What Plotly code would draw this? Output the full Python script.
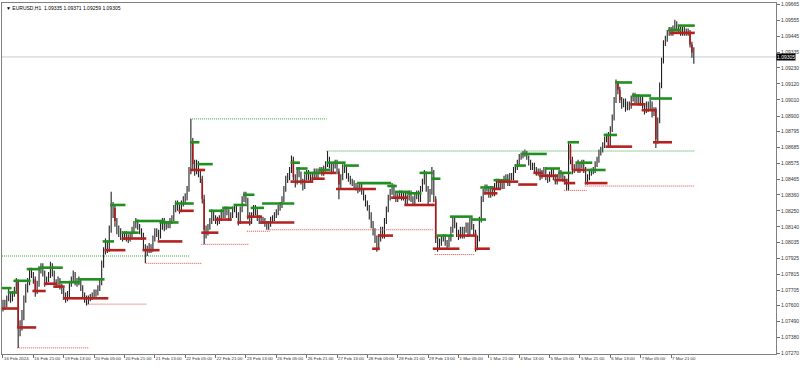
import plotly.graph_objects as go

# ---------------- data (EURUSD H1, bar index 0 = 16 Feb 2024 05:00) ----------------
first_open = 1.0762
closes = [
    1.0759, 1.0761, 1.0765, 1.0767, 1.0765, 1.0768, 1.0770, 1.0777, 1.0745, 1.0746,
    1.0754, 1.0765, 1.0772, 1.0776, 1.0784, 1.0781, 1.0778, 1.0770, 1.0775, 1.0784,
    1.0787, 1.0782, 1.0776, 1.0778, 1.0781, 1.0787, 1.0782, 1.0776, 1.0775, 1.0777,
    1.0773, 1.0770, 1.0767, 1.0765, 1.0767, 1.0775, 1.0778, 1.0781, 1.0776, 1.0776,
    1.0778, 1.0772, 1.0767, 1.0765, 1.0763, 1.0765, 1.0766, 1.0767, 1.0768, 1.0769,
    1.0772, 1.0776, 1.0789, 1.0798, 1.0802, 1.0799, 1.0812, 1.0828, 1.0827, 1.0818,
    1.0812, 1.0810, 1.0808, 1.0807, 1.0809, 1.0807, 1.0806, 1.0808, 1.0812, 1.0816,
    1.0817, 1.0814, 1.0811, 1.0808, 1.0800, 1.0797, 1.0799, 1.0800, 1.0799, 1.0806,
    1.0811, 1.0810, 1.0808, 1.0815, 1.0818, 1.0814, 1.0816, 1.0815, 1.0818, 1.0820,
    1.0827, 1.0830, 1.0827, 1.0826, 1.0830, 1.0833, 1.0834, 1.0840, 1.0853, 1.0872,
    1.0857, 1.0852, 1.0857, 1.0850, 1.0847, 1.0833, 1.0812, 1.0811, 1.0814, 1.0818,
    1.0823, 1.0820, 1.0819, 1.0818, 1.0820, 1.0824, 1.0822, 1.0826, 1.0824, 1.0820,
    1.0822, 1.0826, 1.0827, 1.0822, 1.0818, 1.0826, 1.0833, 1.0836, 1.0833, 1.0822,
    1.0818, 1.0822, 1.0827, 1.0824, 1.0820, 1.0818, 1.0819, 1.0818, 1.0816, 1.0814,
    1.0816, 1.0819, 1.0820, 1.0822, 1.0824, 1.0827, 1.0829, 1.0833, 1.0840, 1.0847,
    1.0848, 1.0853, 1.0860, 1.0848, 1.0845, 1.0853, 1.0850, 1.0845, 1.0842, 1.0848,
    1.0851, 1.0848, 1.0847, 1.0849, 1.0852, 1.0849, 1.0852, 1.0853, 1.0851, 1.0854,
    1.0857, 1.0860, 1.0856, 1.0853, 1.0856, 1.0858, 1.0852, 1.0843, 1.0848, 1.0855,
    1.0853, 1.0849, 1.0847, 1.0845, 1.0844, 1.0842, 1.0841, 1.0840, 1.0842, 1.0838,
    1.0834, 1.0830, 1.0827, 1.0822, 1.0816, 1.0811, 1.0806, 1.0800, 1.0807, 1.0812,
    1.0808, 1.0818, 1.0826, 1.0834, 1.0838, 1.0841, 1.0836, 1.0833, 1.0835, 1.0837,
    1.0834, 1.0836, 1.0831, 1.0834, 1.0837, 1.0833, 1.0831, 1.0835, 1.0837, 1.0833,
    1.0840, 1.0845, 1.0851, 1.0840, 1.0833, 1.0838, 1.0852, 1.0833, 1.0806, 1.0802,
    1.0803, 1.0806, 1.0807, 1.0803, 1.0802, 1.0806, 1.0812, 1.0819, 1.0815, 1.0810,
    1.0808, 1.0812, 1.0808, 1.0812, 1.0815, 1.0810, 1.0818, 1.0814, 1.0810, 1.0800,
    1.0806, 1.0819, 1.0833, 1.0838, 1.0841, 1.0840, 1.0836, 1.0840, 1.0837, 1.0842,
    1.0845, 1.0842, 1.0844, 1.0842, 1.0847, 1.0848, 1.0844, 1.0849, 1.0848, 1.0853,
    1.0855, 1.0858, 1.0862, 1.0863, 1.0864, 1.0865, 1.0862, 1.0858, 1.0855, 1.0856,
    1.0853, 1.0851, 1.0852, 1.0849, 1.0851, 1.0853, 1.0848, 1.0847, 1.0850, 1.0852,
    1.0848, 1.0845, 1.0848, 1.0851, 1.0849, 1.0847, 1.0845, 1.0841, 1.0870, 1.0860,
    1.0853, 1.0855, 1.0858, 1.0853, 1.0856, 1.0858, 1.0853, 1.0845, 1.0848, 1.0851,
    1.0852, 1.0853, 1.0857, 1.0860, 1.0865, 1.0867, 1.0870, 1.0874, 1.0877, 1.0870,
    1.0881, 1.0889, 1.0901, 1.0913, 1.0908, 1.0901, 1.0898, 1.0900, 1.0896, 1.0898,
    1.0897, 1.0902, 1.0904, 1.0901, 1.0903, 1.0899, 1.0902, 1.0897, 1.0894, 1.0898,
    1.0896, 1.0899, 1.0893, 1.0894, 1.0874, 1.0887, 1.0911, 1.0928, 1.0940, 1.0943,
    1.0947, 1.0949, 1.0947, 1.0950, 1.0954, 1.0950, 1.0949, 1.0947, 1.0949, 1.0947,
    1.0948, 1.0947, 1.0939, 1.09335, 1.09305,
]
highs = [
    1.0764, 1.0764, 1.0767, 1.0772, 1.0769, 1.0770, 1.0773, 1.0779, 1.0778, 1.0750,
    1.0757, 1.0767, 1.0775, 1.0779, 1.0786, 1.0786, 1.0783, 1.0780, 1.0777, 1.0786,
    1.0789, 1.0789, 1.0784, 1.0780, 1.0783, 1.0790, 1.0789, 1.0784, 1.0778, 1.0780,
    1.0779, 1.0775, 1.0772, 1.0769, 1.0770, 1.0777, 1.0780, 1.0784, 1.0783, 1.0779,
    1.0780, 1.0779, 1.0774, 1.0769, 1.0767, 1.0767, 1.0768, 1.0769, 1.0771, 1.0771,
    1.0774, 1.0778, 1.0791, 1.0800, 1.0806, 1.0804, 1.0815, 1.0838, 1.0831, 1.0829,
    1.0820, 1.0815, 1.0813, 1.0811, 1.0811, 1.0811, 1.0809, 1.0810, 1.0814, 1.0818,
    1.0820, 1.0819, 1.0816, 1.0813, 1.0810, 1.0802, 1.0801, 1.0803, 1.0802, 1.0808,
    1.0813, 1.0813, 1.0812, 1.0817, 1.0820, 1.0820, 1.0818, 1.0818, 1.0820, 1.0822,
    1.0829, 1.0832, 1.0832, 1.0829, 1.0832, 1.0835, 1.0837, 1.0842, 1.0855, 1.0888,
    1.0875, 1.0860, 1.0860, 1.0859, 1.0853, 1.0849, 1.0836, 1.0815, 1.0816, 1.0820,
    1.0826, 1.0825, 1.0822, 1.0821, 1.0822, 1.0826, 1.0826, 1.0828, 1.0828, 1.0826,
    1.0824, 1.0828, 1.0829, 1.0829, 1.0824, 1.0828, 1.0835, 1.0838, 1.0838, 1.0834,
    1.0824, 1.0824, 1.0829, 1.0829, 1.0826, 1.0822, 1.0821, 1.0821, 1.0820, 1.0818,
    1.0818, 1.0821, 1.0822, 1.0824, 1.0826, 1.0829, 1.0831, 1.0835, 1.0842, 1.0849,
    1.0851, 1.0855, 1.0863, 1.0862, 1.0850, 1.0855, 1.0855, 1.0852, 1.0847, 1.0850,
    1.0853, 1.0853, 1.0850, 1.0851, 1.0854, 1.0854, 1.0854, 1.0855, 1.0855, 1.0856,
    1.0859, 1.0866, 1.0862, 1.0858, 1.0858, 1.0860, 1.0860, 1.0854, 1.0850, 1.0857,
    1.0857, 1.0855, 1.0851, 1.0849, 1.0847, 1.0846, 1.0844, 1.0843, 1.0844, 1.0844,
    1.0840, 1.0836, 1.0832, 1.0829, 1.0824, 1.0818, 1.0813, 1.0808, 1.0809, 1.0814,
    1.0814, 1.0820, 1.0828, 1.0836, 1.0840, 1.0844, 1.0843, 1.0838, 1.0837, 1.0839,
    1.0839, 1.0838, 1.0838, 1.0836, 1.0839, 1.0839, 1.0835, 1.0837, 1.0839, 1.0839,
    1.0842, 1.0847, 1.0853, 1.0852, 1.0842, 1.0840, 1.0855, 1.0853, 1.0835, 1.0808,
    1.0806, 1.0808, 1.0809, 1.0809, 1.0805, 1.0808, 1.0814, 1.0821, 1.0821, 1.0817,
    1.0812, 1.0814, 1.0814, 1.0814, 1.0817, 1.0817, 1.0820, 1.0820, 1.0816, 1.0812,
    1.0808, 1.0821, 1.0835, 1.0840, 1.0843, 1.0843, 1.0842, 1.0842, 1.0842, 1.0844,
    1.0847, 1.0847, 1.0846, 1.0846, 1.0849, 1.0850, 1.0850, 1.0851, 1.0851, 1.0855,
    1.0857, 1.0860, 1.0864, 1.0865, 1.0866, 1.0867, 1.0866, 1.0863, 1.0860, 1.0858,
    1.0858, 1.0855, 1.0854, 1.0854, 1.0853, 1.0855, 1.0855, 1.0850, 1.0852, 1.0854,
    1.0854, 1.0850, 1.0850, 1.0853, 1.0853, 1.0851, 1.0849, 1.0847, 1.0872, 1.0871,
    1.0862, 1.0857, 1.0859, 1.0860, 1.0858, 1.0860, 1.0860, 1.0855, 1.0850, 1.0853,
    1.0854, 1.0855, 1.0859, 1.0862, 1.0867, 1.0869, 1.0872, 1.0876, 1.0878, 1.0879,
    1.0883, 1.0891, 1.0903, 1.0915, 1.0914, 1.0910, 1.0903, 1.0902, 1.0902, 1.0900,
    1.0900, 1.0904, 1.0906, 1.0906, 1.0905, 1.0905, 1.0904, 1.0904, 1.0899, 1.0900,
    1.0900, 1.0901, 1.0900, 1.0896, 1.0896, 1.0889, 1.0913, 1.0930, 1.0942, 1.0945,
    1.0949, 1.0951, 1.0951, 1.0952, 1.0956, 1.0955, 1.0952, 1.0951, 1.0951, 1.0951,
    1.0950, 1.0950, 1.0949, 1.0941, 1.09371,
]
lows = [
    1.0756, 1.0757, 1.0759, 1.0763, 1.0762, 1.0763, 1.0766, 1.0768, 1.0731, 1.0739,
    1.0743, 1.0750, 1.0762, 1.0769, 1.0774, 1.0779, 1.0775, 1.0766, 1.0768, 1.0773,
    1.0782, 1.0780, 1.0773, 1.0774, 1.0776, 1.0779, 1.0780, 1.0774, 1.0772, 1.0773,
    1.0771, 1.0768, 1.0764, 1.0762, 1.0763, 1.0765, 1.0773, 1.0776, 1.0774, 1.0773,
    1.0774, 1.0770, 1.0765, 1.0762, 1.0760, 1.0761, 1.0763, 1.0764, 1.0765, 1.0766,
    1.0767, 1.0770, 1.0774, 1.0786, 1.0795, 1.0796, 1.0797, 1.0810, 1.0820, 1.0814,
    1.0809, 1.0807, 1.0805, 1.0804, 1.0805, 1.0804, 1.0803, 1.0804, 1.0806, 1.0810,
    1.0813, 1.0812, 1.0809, 1.0805, 1.0798, 1.0789, 1.0794, 1.0796, 1.0796, 1.0797,
    1.0804, 1.0807, 1.0805, 1.0806, 1.0812, 1.0811, 1.0812, 1.0813, 1.0813, 1.0816,
    1.0818, 1.0824, 1.0825, 1.0823, 1.0824, 1.0828, 1.0830, 1.0832, 1.0838, 1.0850,
    1.0853, 1.0849, 1.0850, 1.0848, 1.0844, 1.0830, 1.0802, 1.0806, 1.0808, 1.0812,
    1.0816, 1.0818, 1.0816, 1.0815, 1.0816, 1.0818, 1.0820, 1.0820, 1.0822, 1.0818,
    1.0818, 1.0820, 1.0824, 1.0820, 1.0815, 1.0816, 1.0824, 1.0831, 1.0830, 1.0819,
    1.0815, 1.0816, 1.0820, 1.0822, 1.0818, 1.0816, 1.0816, 1.0816, 1.0814, 1.0812,
    1.0812, 1.0814, 1.0817, 1.0818, 1.0820, 1.0822, 1.0825, 1.0827, 1.0831, 1.0838,
    1.0844, 1.0846, 1.0851, 1.0846, 1.0841, 1.0843, 1.0848, 1.0843, 1.0839, 1.0840,
    1.0846, 1.0846, 1.0845, 1.0845, 1.0847, 1.0847, 1.0847, 1.0850, 1.0849, 1.0849,
    1.0852, 1.0855, 1.0854, 1.0850, 1.0851, 1.0854, 1.0850, 1.0833, 1.0840, 1.0846,
    1.0851, 1.0847, 1.0845, 1.0843, 1.0842, 1.0840, 1.0839, 1.0837, 1.0838, 1.0836,
    1.0832, 1.0828, 1.0825, 1.0819, 1.0813, 1.0808, 1.0803, 1.0797, 1.0798, 1.0804,
    1.0806, 1.0806, 1.0816, 1.0824, 1.0832, 1.0836, 1.0834, 1.0831, 1.0831, 1.0833,
    1.0832, 1.0832, 1.0829, 1.0829, 1.0832, 1.0831, 1.0829, 1.0829, 1.0833, 1.0831,
    1.0831, 1.0838, 1.0843, 1.0838, 1.0829, 1.0831, 1.0836, 1.0831, 1.0803, 1.0797,
    1.0799, 1.0801, 1.0804, 1.0801, 1.0799, 1.0800, 1.0804, 1.0810, 1.0813, 1.0807,
    1.0805, 1.0806, 1.0806, 1.0806, 1.0810, 1.0807, 1.0808, 1.0812, 1.0808, 1.0797,
    1.0798, 1.0804, 1.0817, 1.0831, 1.0836, 1.0838, 1.0834, 1.0834, 1.0835, 1.0835,
    1.0840, 1.0840, 1.0840, 1.0840, 1.0840, 1.0845, 1.0842, 1.0842, 1.0846, 1.0846,
    1.0851, 1.0853, 1.0856, 1.0860, 1.0861, 1.0862, 1.0860, 1.0856, 1.0853, 1.0853,
    1.0851, 1.0849, 1.0849, 1.0846, 1.0847, 1.0849, 1.0846, 1.0844, 1.0845, 1.0848,
    1.0846, 1.0843, 1.0843, 1.0846, 1.0847, 1.0845, 1.0843, 1.0839, 1.0839, 1.0857,
    1.0850, 1.0851, 1.0853, 1.0851, 1.0851, 1.0854, 1.0851, 1.0843, 1.0843, 1.0846,
    1.0849, 1.0850, 1.0851, 1.0855, 1.0858, 1.0863, 1.0865, 1.0868, 1.0872, 1.0868,
    1.0868, 1.0879, 1.0887, 1.0899, 1.0905, 1.0899, 1.0895, 1.0896, 1.0893, 1.0894,
    1.0894, 1.0895, 1.0900, 1.0899, 1.0899, 1.0897, 1.0897, 1.0895, 1.0891, 1.0892,
    1.0893, 1.0894, 1.0889, 1.0890, 1.0868, 1.0871, 1.0885, 1.0909, 1.0926, 1.0938,
    1.0941, 1.0945, 1.0945, 1.0945, 1.0948, 1.0948, 1.0947, 1.0945, 1.0945, 1.0945,
    1.0945, 1.0945, 1.0937, 1.0930, 1.09259,
]
if not (len(closes) == len(highs) == len(lows)):
    raise ValueError(f"length mismatch {len(closes)} {len(highs)} {len(lows)}")
opens = [first_open] + closes[:-1]   # H1 forex bars open at the previous close
bars = list(range(len(closes)))

# time axis labels (every 16 bars)
time_tick_bars = [0, 16, 32, 48, 64, 80, 96, 112, 128, 144, 160, 176,
                  192, 208, 224, 240, 256, 272, 288, 304, 320, 336, 352]
time_tick_labels = ["16 Feb 2024", "16 Feb 21:00", "19 Feb 13:00", "20 Feb 05:00",
                    "20 Feb 21:00", "21 Feb 13:00", "22 Feb 05:00", "22 Feb 21:00",
                    "23 Feb 13:00", "26 Feb 05:00", "26 Feb 21:00", "27 Feb 13:00",
                    "28 Feb 05:00", "28 Feb 21:00", "29 Feb 13:00", "1 Mar 05:00",
                    "1 Mar 21:00", "4 Mar 13:00", "5 Mar 05:00", "5 Mar 21:00",
                    "6 Mar 13:00", "7 Mar 05:00", "7 Mar 21:00"]
price_ticks = [1.09665, 1.09555, 1.09445, 1.09335, 1.09230, 1.09120, 1.09010,
               1.08900, 1.08795, 1.08685, 1.08575, 1.08465, 1.08360, 1.08250,
               1.08140, 1.08035, 1.07925, 1.07815, 1.07705, 1.07600, 1.07490,
               1.07380, 1.07270]

# indicator levels (bar index start / end, price)
green_start = [0, 3, 6, 13, 19, 30, 40, 53, 57, 63, 70, 83, 91, 99, 103, 109, 116, 122, 127, 131,
               137, 152, 155, 159, 167, 171, 180, 187, 203, 207, 213, 220, 226, 229, 236, 247,
               252, 259, 270, 274, 286, 293, 298, 303, 308, 317, 323, 332, 341, 351, 356]
green_end = [4, 7, 14, 19, 31, 40, 53, 58, 64, 71, 85, 92, 100, 103, 110, 116, 121, 128, 132, 137,
             153, 156, 160, 167, 172, 180, 187, 204, 207, 214, 220, 226, 230, 237, 247, 254,
             258, 266, 275, 286, 293, 299, 303, 310, 317, 323, 331, 341, 352, 357, 364]
green_level = [1.0772, 1.0769, 1.0777, 1.0785, 1.0786, 1.0776, 1.0778, 1.0804, 1.0829, 1.0810,
               1.0818, 1.0817, 1.0830, 1.0872, 1.0857, 1.0825, 1.0827, 1.0829, 1.0836, 1.0827,
               1.0830, 1.0858, 1.0854, 1.0851, 1.0853, 1.0858, 1.0856, 1.0844, 1.0842, 1.0838,
               1.0837, 1.0851, 1.0847, 1.0808, 1.0821, 1.0819, 1.0841, 1.0846, 1.0856, 1.0864,
               1.0854, 1.0851, 1.0872, 1.0858, 1.0853, 1.0877, 1.0913, 1.0904, 1.0902, 1.0949,
               1.0952]
red_start = [0, 8, 16, 22, 27, 32, 44, 54, 63, 74, 82, 93, 99, 105, 112, 124, 129, 136, 152, 163,
             168, 176, 195, 198, 205, 212, 227, 240, 249, 254, 258, 261, 272, 280, 283, 291,
             296, 301, 307, 318, 331, 337, 343, 352]
red_end = [8, 17, 22, 28, 32, 44, 55, 64, 75, 82, 94, 100, 106, 113, 120, 130, 136, 153, 163, 169,
           175, 196, 198, 205, 213, 227, 240, 249, 256, 260, 262, 271, 281, 284, 292, 297,
           301, 307, 318, 331, 338, 344, 352, 364]
red_level = [1.0758, 1.0745, 1.0770, 1.0775, 1.0773, 1.0765, 1.0765, 1.0798, 1.0806, 1.0798,
             1.0804, 1.0825, 1.0853, 1.0810, 1.0819, 1.0817, 1.0821, 1.0817, 1.0845, 1.0847,
             1.0851, 1.0840, 1.0799, 1.0808, 1.0834, 1.0829, 1.0799, 1.0808, 1.0799, 1.0837,
             1.0840, 1.0845, 1.0843, 1.0851, 1.0849, 1.0846, 1.0844, 1.0853, 1.0844, 1.0869,
             1.0898, 1.0894, 1.0872, 1.0947]
green_dot_start = [0, 99, 171]
green_dot_end = [98, 170, 364]
green_dot_level = [1.0794, 1.0888, 1.0866]
red_dot_start = [8, 45, 76, 105, 129, 140, 228, 296, 307]
red_dot_end = [45, 75, 104, 129, 140, 226, 248, 307, 364]
red_dot_level = [1.0731, 1.0761, 1.0789, 1.0802, 1.0811, 1.0812, 1.0795, 1.0839, 1.0842]
red_bars = [8, 17, 59, 100, 105, 106, 153, 177, 228, 249, 299, 300, 319, 324, 325, 344, 362, 363]
symbol = "EURUSD,H1"

# ---------------- figure ----------------
def seg_xy(starts, ends, levels):
    xs, ys = [], []
    for s, e, l in zip(starts, ends, levels):
        xs += [s - 0.5, e + 0.5, None]
        ys += [l, l, None]
    return xs, ys

fig = go.Figure()

gx, gy = seg_xy(green_dot_start, green_dot_end, green_dot_level)
fig.add_trace(go.Scatter(x=gx, y=gy, mode="lines", hoverinfo="skip",
                         line=dict(color="#3aa03a", width=1, dash="1px,1px")))
rx, ry = seg_xy(red_dot_start, red_dot_end, red_dot_level)
fig.add_trace(go.Scatter(x=rx, y=ry, mode="lines", hoverinfo="skip",
                         line=dict(color="#d84848", width=1, dash="1px,1px")))

fig.add_trace(go.Ohlc(x=bars, open=opens, high=highs, low=lows, close=closes,
                      increasing=dict(line=dict(color="#222222", width=1.1)),
                      decreasing=dict(line=dict(color="#222222", width=1.1)),
                      tickwidth=0.25, hoverinfo="skip"))

bx, by = [], []
for j in red_bars:
    bx += [j, j, None]
    by += [opens[j], closes[j], None]
fig.add_trace(go.Scatter(x=bx, y=by, mode="lines", hoverinfo="skip",
                         line=dict(color="#a81818", width=1.6)))

gx, gy = seg_xy(green_start, green_end, green_level)
fig.add_trace(go.Scatter(x=gx, y=gy, mode="lines", hoverinfo="skip",
                         line=dict(color="#1f8f1f", width=2.6)))
rx, ry = seg_xy(red_start, red_end, red_level)
fig.add_trace(go.Scatter(x=rx, y=ry, mode="lines", hoverinfo="skip",
                         line=dict(color="#b52020", width=2.6)))

last_close = closes[-1]
fig.add_shape(type="line", xref="paper", x0=0, x1=1, yref="y", y0=last_close, y1=last_close,
              line=dict(color="#c4ccd4", width=1), layer="below")

fig.add_annotation(xref="paper", yref="y", x=1.0, y=last_close, xanchor="left", yanchor="middle",
                   text=f"{last_close:.5f}", showarrow=False, bgcolor="#000000",
                   font=dict(family="Liberation Sans", size=5, color="#ffffff"), borderpad=0)
fig.add_annotation(xref="paper", yref="paper", x=0.002, y=1.0, xanchor="left", yanchor="top",
                   text=f"▼ {symbol}  {opens[-1]:.5f} {highs[-1]:.5f} {lows[-1]:.5f} {closes[-1]:.5f}",
                   showarrow=False, font=dict(family="Liberation Sans", size=5, color="#000000"))

fig.update_layout(
    width=800, height=369,
    margin=dict(l=1, r=21, t=2, b=15),
    paper_bgcolor="#ffffff", plot_bgcolor="#ffffff",
    showlegend=False,
    xaxis=dict(range=[-0.52, 407.3], tickmode="array", tickvals=time_tick_bars,
               ticktext=time_tick_labels, ticks="outside", ticklen=3, tickcolor="#707070",
               showline=True, linecolor="#808080", linewidth=1, mirror=True,
               showgrid=False, zeroline=False, rangeslider=dict(visible=False),
               ticklabelposition="outside right", tickangle=0,
               tickfont=dict(family="Liberation Sans", size=4.4, color="#333333")),
    yaxis=dict(range=[1.07268, 1.09675], side="right", tickmode="array",
               tickvals=price_ticks, ticktext=[f"{p:.5f}" for p in price_ticks],
               ticks="outside", ticklen=3, tickcolor="#707070",
               showline=True, linecolor="#808080", linewidth=1, mirror=True,
               showgrid=False, zeroline=False,
               tickfont=dict(family="Liberation Sans", size=5, color="#333333")),
)

fig.write_html("out.html")
